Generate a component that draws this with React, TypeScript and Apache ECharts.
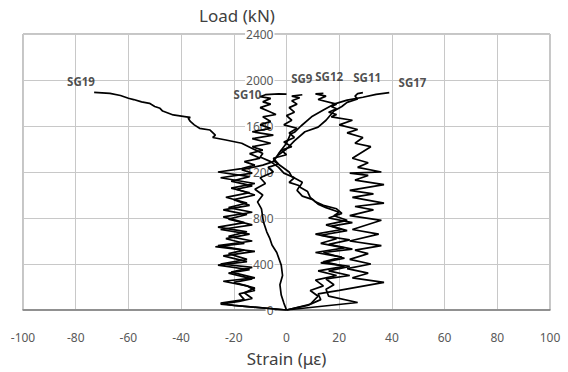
import React, { useEffect, useRef } from "react";
import * as echarts from "echarts";

// Axis ranges / ticks
const xMin = -100;
const xMax = 100;
const xStep = 20;
const yMin = 0;
const yMax = 2400;
const yStep = 400;

// [strain (µε), load (kN)]
const sg19: number[][] = [
  [0, 0], [9, 50], [12, 120], [9, 170], [14, 210], [11, 260], [19, 300], [12, 340], [22, 380],
  [14, 420], [21, 460], [11, 500], [22, 540], [13, 580], [19, 620], [11, 660], [21, 700],
  [15, 740], [23, 780], [18, 820], [20, 850], [15, 890], [12, 920], [10, 960], [6, 990],
  [4, 1040], [5, 1080], [1, 1110], [3, 1150], [-1, 1190], [-3, 1240], [-6, 1290], [-10, 1330],
  [-9, 1360], [-13, 1405], [-17, 1450], [-23, 1478], [-28, 1500], [-27, 1520], [-29, 1565],
  [-33, 1580], [-35, 1610], [-36.5, 1640], [-37.3, 1667], [-36.5, 1675], [-38, 1680],
  [-43, 1696], [-47, 1730], [-48, 1754], [-50, 1770], [-52, 1797], [-55, 1810], [-58, 1830],
  [-60, 1841], [-63, 1865], [-67, 1884], [-73, 1893],
];

const sg10: number[][] = [
  [0, 0], [-25, 50], [-18, 75], [-13, 100], [-16, 150], [-12, 190], [-20, 240], [-13, 270],
  [-22, 320], [-14, 350], [-26, 390], [-15, 420], [-24, 470], [-12, 510], [-27, 550],
  [-16, 580], [-23, 620], [-14, 660], [-25, 700], [-13, 740], [-22, 790], [-15, 830],
  [-24, 870], [-14, 910], [-20, 960], [-12, 1000], [-19, 1050], [-13, 1080], [-21, 1120],
  [-14, 1160], [-26, 1200], [-17, 1230], [-12, 1260], [-16, 1290], [-10, 1320], [-14, 1360],
  [-9, 1390], [-13, 1420], [-6, 1450], [-13, 1490], [-5, 1520], [-13, 1550], [-6, 1580],
  [-10, 1610], [-6, 1640], [-9, 1680], [-4, 1700], [-7, 1730], [-10, 1760], [-6, 1790],
  [-9, 1810], [-6, 1840], [-10, 1855], [-8, 1872], [-3, 1880], [0, 1878],
];

const sg9: number[][] = [
  [0, 0], [-1, 60], [-2, 130], [-2.5, 220], [-1.5, 300], [-2, 390], [-3.7, 500], [-5.5, 565],
  [-6.3, 620], [-7.5, 680], [-8.8, 770], [-9.5, 880], [-11, 940], [-9, 1000], [-12, 1050],
  [-8, 1100], [-10, 1150], [-5, 1200], [-7, 1240], [-3, 1270], [-5, 1320], [0, 1350],
  [-2, 1390], [2, 1420], [-1, 1460], [3, 1500], [1, 1540], [4, 1580], [-1, 1610], [2, 1650],
  [0, 1690], [3, 1720], [1, 1760], [4, 1790], [2, 1820], [5, 1845], [2, 1860], [6, 1872],
];

const sg12: number[][] = [
  [0, 0], [8, 40], [13, 90], [12, 140], [20, 170], [37, 240], [25, 280], [31, 320], [23, 360],
  [32, 400], [24, 440], [31, 490], [26, 520], [36, 560], [24, 600], [35, 660], [25, 700],
  [36, 780], [24, 820], [33, 870], [26, 900], [37, 930], [25, 980], [33, 1010], [24, 1040],
  [37, 1090], [26, 1130], [31, 1170], [24, 1190], [36, 1200], [27, 1240], [31, 1280],
  [25, 1320], [32, 1420], [26, 1450], [29, 1500], [23, 1540], [27, 1570], [20, 1610],
  [25, 1650], [17, 1680], [19, 1700], [16, 1720], [19, 1750], [17, 1770], [19, 1790],
  [12, 1830], [15, 1860], [11, 1880], [14, 1885],
];

const sg11: number[][] = [
  [0, 0], [27, 65], [16, 120], [15, 180], [18, 220], [15, 270], [24, 300], [16, 340],
  [24, 380], [13, 410], [22, 450], [14, 500], [25, 530], [16, 570], [24, 610], [13, 650],
  [23, 690], [17, 730], [25, 760], [16, 800], [21, 840], [19, 880], [14, 910], [11, 940],
  [9, 980], [8, 1030], [5, 1070], [6, 1110], [2, 1160], [1, 1200], [-2, 1250], [-5, 1300],
  [-3, 1350], [0, 1400], [3, 1470], [7, 1550], [12, 1590], [15, 1650], [18, 1730],
  [21, 1770], [23, 1805], [27, 1835], [26, 1860], [27, 1882], [29, 1890],
];

const sg17: number[][] = [
  [0, 0], [-20, 40], [-25, 60], [-16, 90], [-18, 140], [-12, 170], [-15, 210], [-24, 250],
  [-12, 280], [-21, 330], [-13, 370], [-25, 400], [-15, 440], [-22, 490], [-16, 520],
  [-26, 560], [-13, 600], [-22, 640], [-15, 680], [-26, 720], [-16, 760], [-24, 810],
  [-13, 850], [-22, 890], [-15, 930], [-23, 980], [-14, 1020], [-21, 1060], [-12, 1100],
  [-25, 1150], [-13, 1190], [-17, 1220], [-9, 1260], [-5, 1290], [-3, 1360], [0, 1450],
  [1.5, 1530], [3, 1545], [5.5, 1600], [9.5, 1680], [14, 1740], [18, 1790], [23, 1825],
  [29, 1850], [34, 1875], [39, 1890],
];

const seriesNames = ["SG19", "SG10", "SG9", "SG12", "SG11", "SG17"];
const seriesData = [sg19, sg10, sg9, sg12, sg11, sg17];

// label anchor positions [strain, load]
const labelPoints: number[][] = [
  [-78, 1991], [-14.8, 1876], [5.8, 2015], [16.2, 2029], [30.6, 2026], [47.8, 1977],
];

const FONT = "'Noto Sans', 'Open Sans', sans-serif";

const GRID_LEFT = 23;
const GRID_RIGHT = 18;

export default function App() {
  const ref = useRef<HTMLDivElement>(null);
  useEffect(() => {
    if (!ref.current) return;
    const chart = echarts.init(ref.current, undefined, { renderer: "svg" });
    const plotWidth = 568 - GRID_LEFT - GRID_RIGHT;
    // y axis sits at strain = 0 (middle of x range)
    const yAxisOffset = -plotWidth * ((0 - xMin) / (xMax - xMin));
    const lineSeries = seriesData.map((d, i) => ({
      type: "line",
      name: seriesNames[i],
      data: d,
      showSymbol: false,
      symbol: "none",
      lineStyle: { color: "#000", width: 1.7 },
      z: 3,
    }));
    chart.setOption({
      animation: false,
      backgroundColor: "#fff",
      textStyle: { fontFamily: FONT },
      grid: {
        left: GRID_LEFT,
        right: GRID_RIGHT,
        top: 34,
        bottom: 62,
        containLabel: false,
        outerBoundsMode: "none",
        show: true,
        borderColor: "#8c8c8c",
        borderWidth: 1,
      },
      xAxis: {
        type: "value",
        min: xMin,
        max: xMax,
        interval: xStep,
        axisLine: { show: true, onZero: false, lineStyle: { color: "#7f7f7f", width: 1.5 } },
        axisTick: { show: false },
        axisLabel: { color: "#595959", fontSize: 12, margin: 21, fontFamily: FONT },
        splitLine: { show: true, lineStyle: { color: "#c8c8c8", width: 1 } },
        name: "Strain (με)",
        nameLocation: "middle",
        nameGap: 40,
        nameTextStyle: { fontSize: 17, color: "#404040", fontFamily: FONT },
      },
      yAxis: {
        type: "value",
        min: yMin,
        max: yMax,
        interval: yStep,
        position: "left",
        offset: yAxisOffset,
        axisLine: { show: false, onZero: false },
        axisTick: { show: false },
        axisLabel: {
          color: "#595959",
          fontSize: 12,
          margin: 12,
          fontFamily: FONT,
          backgroundColor: "#fff",
          padding: [0, 1],
          formatter: (v: number) => String(v),
        },
        splitLine: { show: true, lineStyle: { color: "#c8c8c8", width: 1 } },
      },
      graphic: [
        {
          type: "text",
          x: 237,
          y: 15,
          style: {
            text: "Load (kN)",
            align: "center",
            verticalAlign: "middle",
            fontSize: 17,
            fontFamily: FONT,
            fill: "#404040",
          },
        },
      ],
      series: [
        ...lineSeries,
        {
          type: "scatter",
          name: "labels",
          symbolSize: 1,
          itemStyle: { color: "rgba(0,0,0,0)" },
          z: 5,
          data: labelPoints.map((p, i) => ({ name: seriesNames[i], value: p })),
          label: {
            show: true,
            position: "inside",
            formatter: "{b}",
            fontSize: 11.5,
            fontWeight: "bold",
            color: "#222",
            fontFamily: FONT,
          },
        },
      ],
    });
    return () => chart.dispose();
  }, []);
  return (
    <div
      ref={ref}
      style={{ position: "fixed", left: 0, top: 0, width: 568, height: 372 }}
    />
  );
}
